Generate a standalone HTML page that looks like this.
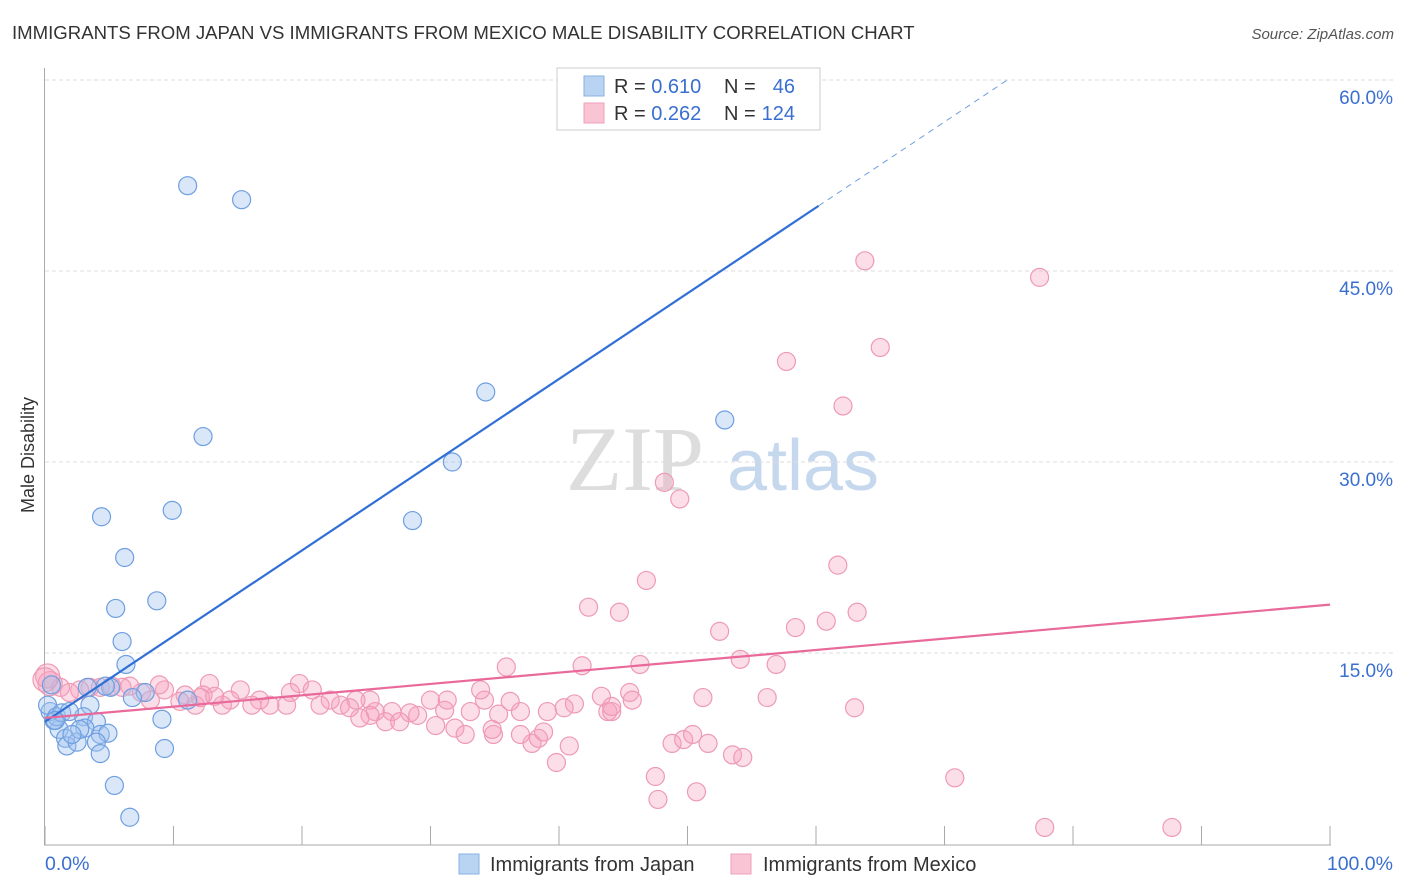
<!DOCTYPE html>
<html><head><meta charset="utf-8"><style>
body{margin:0;background:#fff;font-family:"Liberation Sans",sans-serif;}
#wrap{position:relative;width:1406px;height:892px;overflow:hidden;}
</style></head><body>
<div id="wrap">
<svg id="svg" width="1406" height="892">
<text x="12" y="39" font-size="18.6" fill="#333">IMMIGRANTS FROM JAPAN VS IMMIGRANTS FROM MEXICO MALE DISABILITY CORRELATION CHART</text>
<text x="1394" y="39" font-size="15" fill="#555" font-style="italic" text-anchor="end">Source: ZipAtlas.com</text>
<text x="34" y="455" font-size="18" fill="#333" text-anchor="middle" transform="rotate(-90 34 455)">Male Disability</text>
<g><text x="635" y="490" font-size="92" font-family="Liberation Serif,serif" fill="#ddd" text-anchor="middle">ZIP</text><text x="803" y="490" font-size="72" fill="#c6d8ee" text-anchor="middle">atlas</text></g>
<g id="grid"></g><g id="axes"></g><g id="pts"></g><g id="lines"></g>
<g>
<rect x="557" y="68" width="263" height="62" fill="#fff" stroke="#ccc"/>
<rect x="584" y="76" width="20" height="20" fill="#b9d3f3" stroke="#8ab0e0"/>
<rect x="584" y="103" width="20" height="20" fill="#f9c4d3" stroke="#eea0b8"/>
<text x="614" y="93" font-size="20" fill="#333">R = <tspan fill="#3a6fd0">0.610</tspan></text>
<text x="724" y="93" font-size="20" fill="#333">N =</text>
<text x="795" y="93" font-size="20" fill="#3a6fd0" text-anchor="end">46</text>
<text x="614" y="120" font-size="20" fill="#333">R = <tspan fill="#3a6fd0">0.262</tspan></text>
<text x="724" y="120" font-size="20" fill="#333">N =</text>
<text x="795" y="120" font-size="20" fill="#3a6fd0" text-anchor="end">124</text>
</g>
<g>
<rect x="459" y="854" width="20" height="20" fill="#b9d3f3" stroke="#8ab0e0"/>
<text x="490" y="871" font-size="20" fill="#333">Immigrants from Japan</text>
<rect x="731" y="854" width="20" height="20" fill="#f9c4d3" stroke="#eea0b8"/>
<text x="763" y="871" font-size="20" fill="#333">Immigrants from Mexico</text>
</g>
</svg></div>
<script>
const yTicks=[15,30,45,60];
const yTickLabels=["15.0%","30.0%","45.0%","60.0%"];
const xTicks=[0,10,20,30,40,50,60,70,80,90,100];
const japanX=[11.1,15.3,34.3,52.9,12.3,31.7,4.4,9.9,28.6,6.2,5.5,8.7,6.0,6.3,7.8,11.1,9.1,9.3,5.4,6.6,3.5,3.0,4.0,4.3,4.9,3.1,1.1,1.6,1.7,2.5,2.7,4.0,4.3,0.7,0.4,0.2,0.5,0.9,2.1,6.8,3.3,5.1,1.3,1.9,4.7,0.8];
const japanY=[51.7,50.6,35.5,33.3,32.0,30.0,25.7,26.2,25.4,22.5,18.5,19.1,15.9,14.1,11.9,11.3,9.8,7.5,4.6,2.1,10.9,10.0,9.6,8.6,8.7,9.1,9.0,8.3,7.7,8.0,9.0,8.0,7.1,9.7,10.4,10.9,12.5,10.0,8.6,11.5,12.3,12.3,10.3,10.4,12.4,9.7];
const mexX=[63.8,77.4,65.0,57.7,62.1,48.2,49.4,61.7,46.8,42.3,44.7,63.2,52.5,58.4,60.8,54.1,56.9,35.9,41.8,46.3,70.8,77.8,87.7,47.5,47.7,50.7,53.5,54.3,48.8,49.7,50.4,51.6,51.2,56.2,63.0,45.5,43.3,41.2,39.1,40.4,37.0,36.2,34.2,33.9,31.3,30.0,29.0,28.4,27.0,26.5,25.7,25.3,24.2,23.0,22.2,21.4,19.8,20.8,19.1,18.8,17.5,16.7,16.1,15.2,14.4,13.8,12.8,12.3,11.7,10.9,10.5,9.3,8.9,8.2,7.5,6.6,6.0,5.2,4.3,3.5,2.7,1.9,1.2,0.4,0.2,0.0,25.3,27.6,30.4,31.9,32.7,34.9,34.8,37.9,38.4,38.8,39.8,40.8,43.8,44.1,45.7,44.1,35.3,37.0,24.5,33.1,31.1,23.7,12.1,13.2];
const mexY=[45.8,44.5,39.0,37.9,34.4,28.4,27.1,21.9,20.7,18.6,18.2,18.2,16.7,17.0,17.5,14.5,14.1,13.9,14.0,14.1,5.2,1.3,1.3,5.3,3.5,4.1,7.0,6.8,7.9,8.2,8.6,7.9,11.5,11.5,10.7,11.9,11.6,11.0,10.4,10.7,10.4,11.2,11.3,12.1,11.3,11.3,10.1,10.3,10.4,9.6,10.4,11.3,11.3,10.9,11.3,10.9,12.6,12.1,11.9,10.9,10.9,11.3,10.9,12.1,11.3,10.9,12.6,11.7,10.9,11.7,11.2,12.1,12.5,11.3,11.9,12.4,12.3,12.4,12.3,12.3,12.1,11.9,12.3,12.6,13.2,12.9,10.1,9.6,9.3,9.1,8.6,8.6,9.0,7.9,8.3,8.8,6.4,7.7,10.4,10.4,11.3,10.8,10.2,8.6,9.9,10.4,10.5,10.7,11.5,11.6];
const japanTrend=[9.6,0.673,60.2,75];
const mexTrend=[9.9,18.8];
const NS="http://www.w3.org/2000/svg";
const X=v=>45+v*12.85, Y=v=>844-v*12.733;
function mk(p,t,a){const e=document.createElementNS(NS,t);for(const k in a)e.setAttribute(k,a[k]);p.appendChild(e);return e;}
const grid=document.getElementById('grid'),axes=document.getElementById('axes'),pts=document.getElementById('pts'),lines=document.getElementById('lines');
yTicks.forEach((t,i)=>{
 const l=mk(grid,'line',{x1:45,x2:1394,y1:Y(t),y2:Y(t),stroke:'#ddd','stroke-dasharray':'4 3'});
 
 
 const tx=mk(grid,'text',{x:1393,y:Y(t)+24,'font-size':19,fill:'#3a6fd0','text-anchor':'end'});
 tx.textContent=yTickLabels[i];
 
 
});
mk(axes,'line',{x1:44.5,x2:44.5,y1:68,y2:845,stroke:'#aaa'});
mk(axes,'line',{x1:44,x2:1331,y1:845,y2:845,stroke:'#aaa'});
xTicks.forEach(t=>{const l=mk(axes,'line',{x1:X(t),x2:X(t),y1:826,y2:845,stroke:'#aaa'});
 
 });
let a=mk(axes,'text',{x:45,y:870,'font-size':19.5,fill:'#3a6fd0'});a.textContent='0.0%';


a=mk(axes,'text',{x:1393,y:870,'font-size':19.5,fill:'#3a6fd0','text-anchor':'end'});a.textContent='100.0%';


mexX.forEach((x,i)=>{const c=mk(pts,'circle',{cx:X(x),cy:Y(mexY[i]),r:(x<1?12:9),fill:'rgba(245,160,188,0.35)',stroke:'#ee9ab5','stroke-width':1.2});
 
 });
japanX.forEach((x,i)=>{const c=mk(pts,'circle',{cx:X(x),cy:Y(japanY[i]),r:9,fill:'rgba(160,195,240,0.4)',stroke:'#6f9fe0','stroke-width':1.2});
 
 });
const [b0,sl,xe,xd]=japanTrend;
let t1=mk(lines,'line',{x1:X(0),y1:Y(b0),x2:X(xe),y2:Y(b0+sl*xe),stroke:'#2f6fd6','stroke-width':2.2});


let t2=mk(lines,'line',{x1:X(xe),y1:Y(b0+sl*xe),x2:X(xd),y2:Y(b0+sl*xd),stroke:'#6f9fe0','stroke-width':1,'stroke-dasharray':'6 5'});


let t3=mk(lines,'line',{x1:X(0),y1:Y(mexTrend[0]),x2:X(100),y2:Y(mexTrend[1]),stroke:'#e8699a','stroke-width':2.2});


</script>
</body></html>
